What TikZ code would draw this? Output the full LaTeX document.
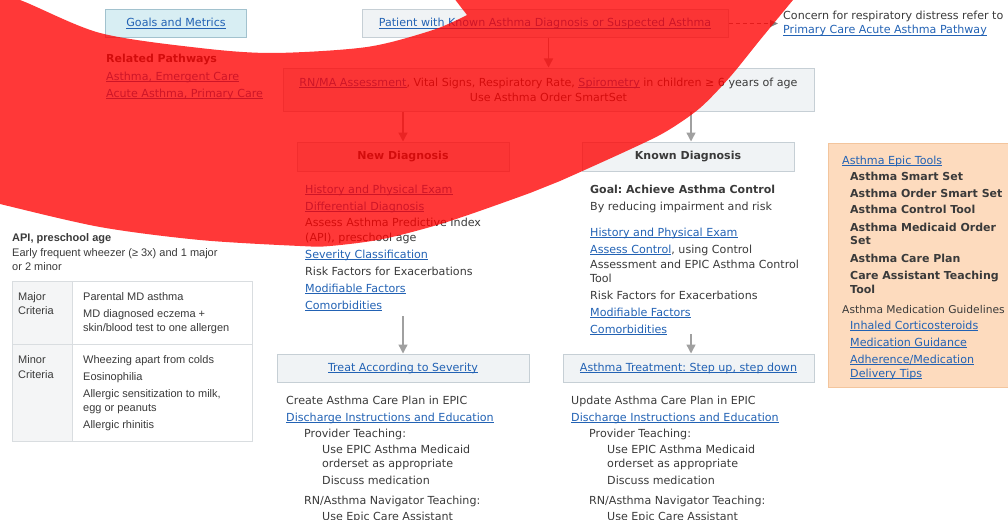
\documentclass[tikz,border=0pt]{standalone}
\usepackage{fontspec}
\setmainfont{DejaVu Sans}
\newfontfamily\arialfont{Liberation Sans}
\usetikzlibrary{arrows.meta}
\definecolor{ink}{HTML}{3A3A3A}
\definecolor{linkblue}{HTML}{2262B4}
\definecolor{boxfill}{HTML}{F0F3F5}
\definecolor{boxline}{HTML}{C6CFD5}
\definecolor{goalfill}{HTML}{D8EEF3}
\definecolor{goalline}{HTML}{A2C2CE}
\definecolor{toolfill}{HTML}{FDDBBE}
\definecolor{toolline}{HTML}{F3C59D}
\definecolor{arrowgray}{HTML}{A0A0A0}
\definecolor{dashgray}{HTML}{808080}
\definecolor{tabline}{HTML}{D9DDE0}
\definecolor{tabhead}{HTML}{F4F5F6}
% underlined hyperlink text
\newcommand\lnk[1]{{\color{linkblue}\setbox0\hbox{#1}\rlap{\rule[-1.9pt]{\wd0}{0.65pt}}\box0}}
\frenchspacing
\begin{document}
\begin{tikzpicture}[x=1pt,y=-1pt,
  txt/.style={inner sep=0, anchor=base west, text=ink, font=\fontsize{11.1}{13}\selectfont},
  btxt/.style={txt, font=\fontsize{11}{13}\selectfont\bfseries},
  atxt/.style={inner sep=0, anchor=base west, text=ink, font=\arialfont\fontsize{11}{13}\selectfont},
  abtxt/.style={atxt, font=\arialfont\fontsize{11}{13}\selectfont\bfseries},
  box/.style={draw=boxline, fill=boxfill, line width=1pt, inner sep=0, text=ink,
    font=\fontsize{11.1}{15}\selectfont, align=center},
  arr/.style={draw=arrowgray, line width=1.4pt, -{Triangle[length=9pt,width=9pt]}},
  veil/.style={fill=red, fill opacity=0.78}
]
\useasboundingbox (0,0) rectangle (1008,519);
\clip (0,0) rectangle (1008,519);

% ---------- top row ----------
\node[box, draw=goalline, fill=goalfill, minimum width=141, minimum height=28] (goals) at (176,23.5) {\lnk{Goals and Metrics}};
\node[box, minimum width=366, minimum height=28] (patient) at (545,23.5) {\lnk{Patient with Known Asthma Diagnosis or Suspected Asthma}};
\node[txt] (concern) at (783,20) {Concern for respiratory distress refer to};
\node[txt] (acute) at (783,34) {\lnk{Primary Care Acute Asthma Pathway}};
\draw[draw=dashgray, line width=1.1pt, dash pattern=on 4pt off 3pt, -{Triangle[length=8pt,width=7pt]}] (patient.east) -- ([xshift=-5pt]acute.west |- patient.east);

\node[btxt] (related) at (106,63) {Related Pathways};
\node[txt] (rp1) at (106,80) {\lnk{Asthma, Emergent Care}};
\node[txt] (rp2) at (106,97) {\lnk{Acute Asthma, Primary Care}};

% ---------- assessment ----------
\node[box, minimum width=531, minimum height=43] (rn) at (548.5,89.5)
  {\lnk{RN/MA Assessment}, Vital Signs, Respiratory Rate, \lnk{Spirometry} in children ≥ 6 years of age\\Use Asthma Order SmartSet};
\draw[arr] (patient.south -| rn.north) -- (rn.north);

\node[box, minimum width=212, minimum height=29, font=\fontsize{11}{13}\selectfont\bfseries] (newdx) at (403,156.5) {New Diagnosis};
\node[box, minimum width=212, minimum height=29, font=\fontsize{11}{13}\selectfont\bfseries] (knowndx) at (688,156.5) {Known Diagnosis};
\draw[arr] (rn.south -| newdx.north) -- (newdx.north);
\draw[arr] ([xshift=3pt]rn.south -| knowndx.north) -- ([xshift=3pt]knowndx.north);

% ---------- new diagnosis column ----------
\node[txt] (nd1) at (305,193) {\lnk{History and Physical Exam}};
\node[txt] (nd2) at (305,210) {\lnk{Differential Diagnosis}};
\node[txt] (nd3) at (305,226) {Assess Asthma Predictive Index};
\node[txt] (nd4) at (305,241) {(API), preschool age};
\node[txt] (nd5) at (305,258) {\lnk{Severity Classification}};
\node[txt] (nd6) at (305,275) {Risk Factors for Exacerbations};
\node[txt] (nd7) at (305,292) {\lnk{Modifiable Factors}};
\node[txt] (nd8) at (305,309) {\lnk{Comorbidities}};
\coordinate (ndend) at (403,316);

\node[box, minimum width=252, minimum height=28] (treat) at (403,368) {\lnk{Treat According to Severity}};
\draw[arr] (ndend) -- (treat.north);

\node[txt] (tr1) at (286,404) {Create Asthma Care Plan in EPIC};
\node[txt] (tr2) at (286,421) {\lnk{Discharge Instructions and Education}};
\node[txt] (tr3) at (304,437) {Provider Teaching:};
\node[txt] (tr4) at (322,453) {Use EPIC Asthma Medicaid};
\node[txt] (tr5) at (322,467) {orderset as appropriate};
\node[txt] (tr6) at (322,484) {Discuss medication};
\node[txt] (tr7) at (304,504) {RN/Asthma Navigator Teaching:};
\node[txt] (tr8) at (322,520) {Use Epic Care Assistant};

% ---------- known diagnosis column ----------
\node[btxt] (kd1) at (590,193) {Goal: Achieve Asthma Control};
\node[txt] (kd2) at (590,210) {By reducing impairment and risk};
\node[txt] (kd3) at (590,236) {\lnk{History and Physical Exam}};
\node[txt] (kd4) at (590,253) {\lnk{Assess Control}, using Control};
\node[txt] (kd5) at (590,268) {Assessment and EPIC Asthma Control};
\node[txt] (kd6) at (590,282) {Tool};
\node[txt] (kd7) at (590,299) {Risk Factors for Exacerbations};
\node[txt] (kd8) at (590,316) {\lnk{Modifiable Factors}};
\node[txt] (kd9) at (590,333) {\lnk{Comorbidities}};
\coordinate (kdend) at (691,334);

\node[box, minimum width=251, minimum height=28] (step) at (688.5,368) {\lnk{Asthma Treatment: Step up, step down}};
\draw[arr] (kdend) -- (kdend |- step.north);

\node[txt] (st1) at (571,404) {Update Asthma Care Plan in EPIC};
\node[txt] (st2) at (571,421) {\lnk{Discharge Instructions and Education}};
\node[txt] (st3) at (589,437) {Provider Teaching:};
\node[txt] (st4) at (607,453) {Use EPIC Asthma Medicaid};
\node[txt] (st5) at (607,467) {orderset as appropriate};
\node[txt] (st6) at (607,484) {Discuss medication};
\node[txt] (st7) at (589,504) {RN/Asthma Navigator Teaching:};
\node[txt] (st8) at (607,520) {Use Epic Care Assistant};

% ---------- epic tools panel ----------
\fill[toolfill, draw=toolline, line width=1pt] (828,143) rectangle (1020,387);
\node[txt] (ot1) at (842,164) {\lnk{Asthma Epic Tools}};
\node[btxt] (ot2) at (850,180) {Asthma Smart Set};
\node[btxt] (ot3) at (850,197) {Asthma Order Smart Set};
\node[btxt] (ot4) at (850,213) {Asthma Control Tool};
\node[btxt] (ot5) at (850,231) {Asthma Medicaid Order};
\node[btxt] (ot6) at (850,244) {Set};
\node[btxt] (ot7) at (850,262) {Asthma Care Plan};
\node[btxt] (ot8) at (850,279) {Care Assistant Teaching};
\node[btxt] (ot9) at (850,293) {Tool};
\node[txt, font=\fontsize{10.7}{13}\selectfont] (ot10) at (842,313) {Asthma Medication Guidelines};
\node[txt] (ot11) at (850,329) {\lnk{Inhaled Corticosteroids}};
\node[txt] (ot12) at (850,346) {\lnk{Medication Guidance}};
\node[txt] (ot13) at (850,363) {\lnk{Adherence/Medication}};
\node[txt] (ot14) at (850,377) {\lnk{Delivery Tips}};

% ---------- API criteria table ----------
\node[abtxt] (ap1) at (12,241) {API, preschool age};
\node[atxt] (ap2) at (12,256) {Early frequent wheezer (≥ 3x) and 1 major};
\node[atxt] (ap3) at (12,270) {or 2 minor};
\fill[white] (12.5,281.5) rectangle (252,441.5);
\fill[tabhead] (12.5,281.5) rectangle (72,441.5);
\draw[tabline, line width=1pt] (12.5,281.5) rectangle (252,441.5);
\draw[tabline, line width=1pt] (72,281.5) -- (72,441.5);
\draw[tabline, line width=1pt] (12.5,344) -- (252,344);
\node[atxt] (mj1) at (18,300) {Major};
\node[atxt] (mj2) at (18,314) {Criteria};
\node[atxt] (mj3) at (83,300) {Parental MD asthma};
\node[atxt] (mj4) at (83,317) {MD diagnosed eczema +};
\node[atxt] (mj5) at (83,331) {skin/blood test to one allergen};
\node[atxt] (mn1) at (18,363) {Minor};
\node[atxt] (mn2) at (18,378) {Criteria};
\node[atxt] (mn3) at (83,363) {Wheezing apart from colds};
\node[atxt] (mn4) at (83,380) {Eosinophilia};
\node[atxt] (mn5) at (83,397) {Allergic sensitization to milk,};
\node[atxt] (mn6) at (83,411) {egg or peanuts};
\node[atxt] (mn7) at (83,428) {Allergic rhinitis};

% ---------- translucent red band across the top ----------
\path[veil]
  plot[smooth] coordinates {(-30,-15) (20,0) (100,33) (200,48) (273,53) (367,47) (433,30) (467,15)}
  -- (440,-20) -- (830,-40)
  -- plot[smooth] coordinates {(810,-20) (793,0) (760,40) (730,77) (700,108) (667,131) (633,148) (560,181) (530,193) (447,222) (383,239) (330,246) (300,246) (200,240) (100,227) (0,204) (-30,196)}
  -- cycle;
\end{tikzpicture}
\end{document}
